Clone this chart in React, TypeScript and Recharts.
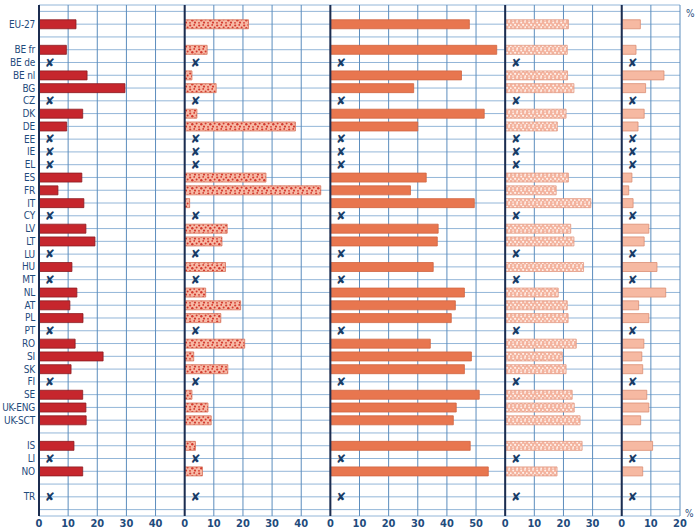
import { Bar, BarChart, CartesianGrid, ReferenceLine, XAxis, YAxis } from 'recharts';

// rows, top to bottom; names starting with "_" are spacer rows
const CATEGORIES = [
  '_top', 'EU-27', '_gap1', 'BE fr', 'BE de', 'BE nl', 'BG', 'CZ', 'DK', 'DE', 'EE', 'IE', 'EL',
  'ES', 'FR', 'IT', 'CY', 'LV', 'LT', 'LU', 'HU', 'MT', 'NL', 'AT', 'PL', 'PT', 'RO', 'SI', 'SK',
  'FI', 'SE', 'UK-ENG', 'UK-SCT', '_gap2', 'IS', 'LI', 'NO', '_gap3', 'TR', '_bottom'
];

// null = no data (drawn as a cross for real rows)
const PANEL_1 = [
  null, 12.7, null, 9.4, null, 16.5, 29.5, null, 15.0, 9.5, null, null, null,
  14.7, 6.5, 15.4, null, 16.1, 19.2, null, 11.3, null, 13.0, 10.6, 15.1, null, 12.4, 22.0, 11.0,
  null, 15.0, 16.1, 16.2, null, 12.0, null, 15.0, null, null, null
];
const PANEL_2 = [
  null, 21.9, null, 7.7, null, 2.5, 10.8, null, 4.2, 38.0, null, null, null,
  27.9, 46.7, 1.7, null, 14.6, 12.8, null, 14.0, null, 7.2, 19.2, 12.4, null, 20.6, 3.1, 14.8,
  null, 2.5, 8.0, 9.1, null, 3.7, null, 6.1, null, null, null
];
const PANEL_3 = [
  null, 47.7, null, 57.1, null, 45.0, 28.6, null, 52.8, 30.0, null, null, null,
  32.9, 27.5, 49.4, null, 37.0, 36.7, null, 35.3, null, 46.0, 42.9, 41.5, null, 34.3, 48.4, 46.0,
  null, 51.1, 43.2, 42.2, null, 48.0, null, 54.2, null, null, null
];
const PANEL_4 = [
  null, 21.7, null, 21.3, null, 21.4, 23.6, null, 20.9, 17.9, null, null, null,
  21.7, 17.5, 29.4, null, 22.5, 23.6, null, 26.9, null, 18.2, 21.3, 21.6, null, 24.4, 19.6, 20.9,
  null, 23.0, 23.7, 25.7, null, 26.4, null, 17.8, null, null, null
];
const PANEL_5 = [
  null, 6.4, null, 4.9, null, 14.5, 8.2, null, 7.7, 5.6, null, null, null,
  3.5, 2.4, 3.9, null, 9.3, 7.7, null, 12.1, null, 15.1, 5.8, 9.3, null, 7.6, 6.9, 7.2,
  null, 8.6, 9.3, 6.5, null, 10.6, null, 7.2, null, null, null
];

const PANELS = [PANEL_1, PANEL_2, PANEL_3, PANEL_4, PANEL_5];
// where each panel's zero sits on the shared axis (panels span 50, 50, 60, 40, 20)
const PANEL_OFFSETS = [0, 50, 100, 160, 200];
const AXIS_END = 220;
const X_TICKS = Array.from({ length: AXIS_END / 10 + 1 }, (_, i) => i * 10);
const CROSS_POS = 3.7;

const PANEL_STYLES = [
  { fill: '#C6262D', stroke: '#8C1B1F' },
  { fill: 'url(#dotsRed)', stroke: '#D7735C' },
  { fill: '#E8764F', stroke: '#D06440' },
  { fill: 'url(#dotsLight)', stroke: '#E29A84' },
  { fill: '#F6B9A2', stroke: '#DB8E74' }
];

const NAVY = '#1F4B7C';
const FONT = '"DejaVu Sans Condensed", "Liberation Sans Narrow", "Roboto", sans-serif';

const chartData = CATEGORIES.map((name, i) => ({
  name,
  values: PANELS.map((p) => p[i]),
  missing: !name.startsWith('_') && PANEL_1[i] == null
}));

function localTick(v: number) {
  let off = 0;
  for (const o of PANEL_OFFSETS) if (o <= v) off = o;
  return String(v - off);
}

function CountryTick(props: any) {
  const { x, y, payload } = props;
  const label = String(payload.value);
  if (label.startsWith('_')) return null;
  return (
    <text
      x={x}
      y={y}
      textAnchor="end"
      dominantBaseline="central"
      fontSize={10}
      letterSpacing={-0.2}
      fill={NAVY}
      fontFamily={FONT}
    >
      {label}
    </text>
  );
}

function CrossShape(props: any) {
  const { x, y, width, height, payload } = props;
  if (!payload || !payload.missing || !width) return null;
  return (
    <text
      x={x + width}
      y={y + height / 2}
      textAnchor="middle"
      dominantBaseline="central"
      fontSize={12}
      fontWeight="bold"
      fill="#173B66"
      fontFamily="DejaVu Sans"
    >
      ✘
    </text>
  );
}

export default function App() {
  return (
    <div style={{ position: 'absolute', left: 0, top: 0, width: 695, height: 531, background: '#fff' }}>
      <BarChart
        width={695}
        height={531}
        data={chartData}
        layout="vertical"
        margin={{ top: 5, right: 15, left: 0, bottom: 0 }}
        barSize={9}
        barGap={-9}
      >
        <defs>
          <pattern id="dotsRed" patternUnits="userSpaceOnUse" width="9" height="8">
            <rect width="9" height="8" fill="#F7B9A5" />
            <circle cx="1.2" cy="1.5" r="1.1" fill="#D3392E" />
            <circle cx="5.2" cy="0.9" r="0.9" fill="#D3392E" />
            <circle cx="3.3" cy="4.2" r="1.2" fill="#D3392E" />
            <circle cx="7.6" cy="3.6" r="1" fill="#D3392E" />
            <circle cx="1.0" cy="6.8" r="0.9" fill="#D3392E" />
            <circle cx="6.0" cy="6.6" r="1.1" fill="#D3392E" />
          </pattern>
          <pattern id="dotsLight" patternUnits="userSpaceOnUse" width="8" height="7">
            <rect width="8" height="7" fill="#F3B29D" />
            <circle cx="1.2" cy="1.4" r="1" fill="#FFF2EC" />
            <circle cx="5" cy="0.9" r="0.9" fill="#FFF2EC" />
            <circle cx="3.1" cy="3.8" r="1.1" fill="#FFF2EC" />
            <circle cx="6.8" cy="4.2" r="0.9" fill="#FFF2EC" />
            <circle cx="1" cy="6.1" r="0.8" fill="#FFF2EC" />
            <circle cx="5.2" cy="6.2" r="0.9" fill="#FFF2EC" />
          </pattern>
        </defs>
        <CartesianGrid vertical={false} stroke="#93B6D8" strokeWidth={1} />
        <CartesianGrid horizontal={false} stroke="#5C8DBD" strokeWidth={1} />
        <XAxis
          type="number"
          domain={[0, AXIS_END]}
          ticks={X_TICKS}
          tickFormatter={(v: number) => localTick(v)}
          axisLine={false}
          tickLine={false}
          tickSize={0}
          tickMargin={3}
          height={15}
          interval={0}
          tick={{ fill: NAVY, fontSize: 11, fontWeight: 600, fontFamily: FONT }}
        />
        <YAxis
          type="category"
          dataKey="name"
          width={39}
          interval={0}
          axisLine={false}
          tickLine={false}
          tickSize={0}
          tickMargin={4}
          tick={<CountryTick />}
        />
        {PANEL_OFFSETS.map((o) => (
          <ReferenceLine key={o} x={o} stroke="#1C2D50" strokeWidth={2} />
        ))}
        {PANELS.map((_, k) => (
          <Bar
            key={`p${k}`}
            dataKey={(d: any) =>
              d.values[k] == null ? null : [PANEL_OFFSETS[k], PANEL_OFFSETS[k] + d.values[k]]
            }
            fill={PANEL_STYLES[k].fill}
            stroke={PANEL_STYLES[k].stroke}
            strokeWidth={0.8}
            isAnimationActive={false}
          />
        ))}
        {PANELS.map((_, k) => (
          <Bar
            key={`x${k}`}
            dataKey={(d: any) => (d.missing ? [PANEL_OFFSETS[k], PANEL_OFFSETS[k] + CROSS_POS] : null)}
            fill="none"
            shape={CrossShape}
            isAnimationActive={false}
          />
        ))}
      </BarChart>
      <div style={{ position: 'absolute', left: 686, top: 8, fontSize: 10, color: NAVY, fontFamily: FONT }}>%</div>
      <div style={{ position: 'absolute', left: 685, top: 508, fontSize: 10, color: NAVY, fontFamily: FONT }}>%</div>
    </div>
  );
}
